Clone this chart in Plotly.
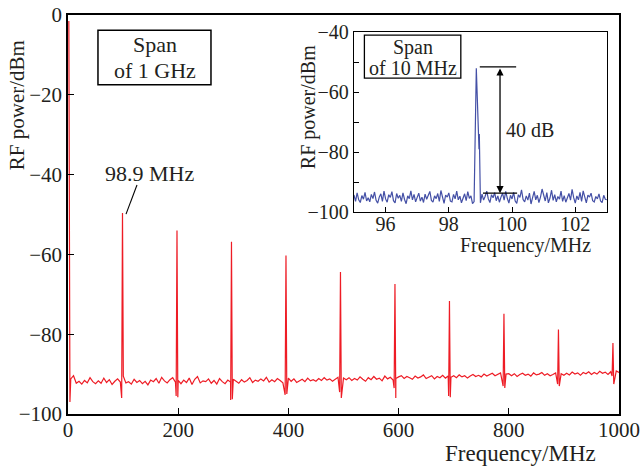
import numpy as np
import plotly.graph_objects as go

# ---------------- data ----------------
# main spectrum (span 1 GHz): DC component
dc_freq = [1.5, 3.5]
dc_level = [-1.5, -97.0]

# noise floor sampled every 5 MHz from 5 to 1000 MHz
noise_main = [
    -91.2, -90.4, -92.3, -91.8, -92.5, -91.6, -92.2, -90.9, -91.9, -92.4,
    -91.7, -92.3, -91.0, -92.1, -91.4, -92.6, -91.8, -91.2, -92.0, -91.5,
    -92.2, -91.9, -92.5, -91.3, -92.1, -91.6, -92.4, -91.8, -92.7, -91.5,
    -91.9, -91.1, -92.3, -90.8, -91.7, -92.2, -91.4, -90.9, -92.0, -91.6,
    -92.4, -91.5, -92.1, -91.0, -92.6, -91.3, -90.6, -92.2, -91.7, -91.9,
    -91.2, -92.3, -91.6, -92.5, -91.1, -91.9, -92.4, -91.5, -92.0, -91.3,
    -91.8, -92.3, -91.4, -92.0, -91.6, -90.9, -92.1, -91.5, -91.8, -91.2,
    -91.7, -90.8, -92.0, -91.4, -91.9, -91.1, -91.6, -92.2, -91.3, -91.0,
    -91.8, -91.2, -92.1, -91.6, -91.3, -91.9, -91.0, -91.7, -91.4, -91.8,
    -91.1, -91.6, -90.9, -91.5, -91.2, -91.8, -91.3, -90.8, -91.6, -91.0,
    -91.4, -90.9, -91.6, -91.1, -91.5, -90.7, -91.3, -91.8, -90.9, -91.4,
    -90.6, -91.3, -91.0, -91.7, -90.5, -91.2, -90.8, -91.5, -91.1, -90.7,
    -90.4, -91.1, -90.6, -90.9, -91.3, -90.5, -91.0, -90.7, -90.2, -91.1,
    -90.8, -90.4, -91.2, -90.6, -90.9, -90.3, -91.0, -90.5, -90.8, -90.4,
    -90.9, -90.2, -90.7, -90.4, -91.0, -90.5, -90.1, -90.6, -90.3, -90.7,
    -90.0, -90.5, -90.2, -89.8, -90.4, -90.1, -89.7, -90.3, -90.0, -89.9,
    -90.4, -89.9, -90.6, -90.1, -89.8, -90.3, -90.0, -90.5, -89.7, -90.2,
    -90.0, -89.6, -90.3, -89.9, -90.4, -90.1, -89.7, -90.2, -89.9, -90.3,
    -89.8, -90.2, -89.5, -90.0, -89.7, -90.3, -89.6, -89.9, -89.4, -90.1,
    -89.6, -90.0, -89.3, -89.8, -89.5, -90.1, -89.4, -89.7, -89.2, -89.6,
]

# harmonic peaks
peak_freq = [98.9, 197.8, 296.7, 395.6, 494.5, 593.4, 692.3, 791.2, 890.1, 989.0]
peak_level = [-49.6, -54.0, -56.8, -60.3, -64.4, -67.4, -71.7, -74.9, -78.8, -82.2]
dip_left = [-96.0, -95.5, -96.5, -95.2, -94.5, -93.5, -95.5, -93.0, -92.5, -90.5]
dip_right = [-90.5, -95.8, -96.3, -95.0, -96.0, -96.0, -95.8, -93.5, -93.0, -92.5]

# inset spectrum (span 10 MHz): samples every 0.05 MHz from 95 to 103 MHz
noise_inset = [
    -94.3, -96.4, -93.6, -95.9, -96.8, -94.5, -95.7, -93.4, -96.3, -95.2,
    -96.6, -94.1, -95.5, -93.3, -96.1, -97.0, -95.0, -93.9, -96.4, -93.0,
    -95.6, -96.7, -94.2, -95.1, -93.2, -96.2, -96.9, -93.8, -95.4, -94.4,
    -96.4, -93.6, -95.8, -97.2, -94.6, -95.5, -92.9, -95.9, -94.1, -96.6,
    -95.1, -93.7, -96.3, -95.0, -96.8, -94.0, -95.7, -94.5, -93.1, -96.1,
    -96.7, -94.6, -95.5, -93.8, -96.4, -92.8, -95.3, -97.1, -94.3, -95.0,
    -93.6, -96.3, -96.6, -94.1, -95.6, -93.0, -95.9, -94.7, -96.9, -95.1,
    -93.9, -96.2, -93.2, -95.4, -94.6, -97.2, None, None, None, None,
    -96.9, -94.0, -96.0, -94.7, -93.0, -95.6, -96.8, -94.2, -95.2, -93.5,
    -96.2, -94.6, -96.7, -95.0, -93.7, -96.0, -93.1, -95.4, -97.0, -94.4,
    -95.6, -93.4, -96.3, -97.1, -94.2, -95.1, -92.6, -95.8, -96.6, -94.6,
    -96.0, -93.7, -97.3, -95.2, -93.1, -95.9, -94.4, -96.8, -95.0, -92.3,
    -94.3, -96.3, -93.5, -96.9, -95.3, -92.7, -96.1, -94.2, -96.6, -94.8,
    -95.7, -93.0, -96.4, -94.5, -96.7, -95.0, -93.8, -96.0, -92.4, -95.2,
    -97.0, -94.6, -95.9, -93.4, -96.4, -92.9, -95.4, -96.9, -94.3, -95.0,
    -93.7, -96.2, -96.6, -94.8, -95.6, -93.9, -96.3, -96.8, -94.4, -95.7,
    -95.9,
]
inset_peak_freq = [98.80, 98.87, 98.94, 98.955, 98.965]
inset_peak_level = [-96.5, -52.0, -73.0, -79.0, -74.0]

main_xticks = [0, 200, 400, 600, 800, 1000]
main_yticks = [-100, -80, -60, -40, -20, 0]
inset_xticks = [96, 98, 100, 102]
inset_yticks = [-100, -80, -60, -40]

# ---------------- build traces ----------------
grid_x = np.arange(5, 1001, 5)
pts = [(x, y) for x, y in zip(grid_x, noise_main)
       if min(abs(x - f) for f in peak_freq) > 1.6]
pts += list(zip(dc_freq, dc_level))
for f, top, dl, dr in zip(peak_freq, peak_level, dip_left, dip_right):
    pts += [(f - 1.5, dl), (f, top), (f + 1.5, dr)]
pts.sort(key=lambda p: p[0])
mx = [p[0] for p in pts]
my = [p[1] for p in pts]

igrid = np.round(np.linspace(95, 103, len(noise_inset)), 3)
ipts = [(x, y) for x, y in zip(igrid, noise_inset) if y is not None]
ipts += list(zip(inset_peak_freq, inset_peak_level))
ipts.sort(key=lambda p: p[0])
ix = [p[0] for p in ipts]
iy = [p[1] for p in ipts]

FONT = "Liberation Serif"
TXT = "#231f20"

fig = go.Figure()
fig.add_trace(go.Scatter(x=mx, y=my, mode="lines",
                         line=dict(color="#ee1c25", width=1.2),
                         xaxis="x", yaxis="y", showlegend=False))
fig.add_trace(go.Scatter(x=ix, y=iy, mode="lines",
                         line=dict(color="#4450a6", width=1.2),
                         xaxis="x2", yaxis="y2", showlegend=False))

axis_common = dict(showline=True, mirror=True, linecolor="black",
                   showgrid=False, zeroline=False, ticks="inside",
                   tickcolor="black", color=TXT, automargin=False)

fig.update_layout(
    width=640, height=466,
    margin=dict(l=68, r=21, t=15, b=52),
    paper_bgcolor="white", plot_bgcolor="white",
    font=dict(family=FONT, color=TXT),
    xaxis=dict(axis_common, range=[0, 1000], tickvals=main_xticks,
               ticklen=6, linewidth=1.5, tickwidth=1.3, ticklabelstandoff=-4,
               tickfont=dict(size=21, family=FONT), domain=[0, 1]),
    yaxis=dict(axis_common, range=[-100, 0], tickvals=main_yticks,
               ticklen=6, linewidth=1.5, tickwidth=1.3,
               tickfont=dict(size=21, family=FONT), domain=[0, 1]),
    xaxis2=dict(axis_common, range=[95, 103], tickvals=inset_xticks,
                ticklen=5, linewidth=1.3, tickwidth=1.2, anchor="y2",
                ticklabelstandoff=-6,
                tickfont=dict(size=20, family=FONT), domain=[0.519, 0.978]),
    yaxis2=dict(axis_common, range=[-100, -40], tickvals=inset_yticks,
                ticklen=5, linewidth=1.3, tickwidth=1.2, anchor="x2",
                minor=dict(ticks="inside", dtick=10, ticklen=5,
                           tickcolor="black", tickwidth=1.2),
                tickfont=dict(size=20, family=FONT), domain=[0.506, 0.957]),
)

ann = []
# axis titles
ann.append(dict(text="Frequency/MHz", x=0.822, y=-0.1, xref="paper", yref="paper",
                showarrow=False, font=dict(size=23), xanchor="center", yanchor="middle"))
ann.append(dict(text="RF power/dBm", x=-0.0926, y=0.774, xref="paper", yref="paper",
                showarrow=False, font=dict(size=21), textangle=-90,
                xanchor="center", yanchor="middle"))
ann.append(dict(text="Frequency/MHz", x=0.831, y=0.422, xref="paper", yref="paper",
                showarrow=False, font=dict(size=20), xanchor="center", yanchor="middle"))
ann.append(dict(text="RF power/dBm", x=0.4356, y=0.769, xref="paper", yref="paper",
                showarrow=False, font=dict(size=20), textangle=-90,
                xanchor="center", yanchor="middle"))
# main labels
ann.append(dict(text="98.9 MHz", x=148.8, y=-39.6, xref="x", yref="y",
                showarrow=False, font=dict(size=22)))
ann.append(dict(text="Span", x=157, y=-7.5, xref="x", yref="y",
                showarrow=False, font=dict(size=22)))
ann.append(dict(text="of 1 GHz", x=157, y=-13.8, xref="x", yref="y",
                showarrow=False, font=dict(size=22)))
# inset labels
ann.append(dict(text="Span", x=96.86, y=-45.0, xref="x2", yref="y2",
                showarrow=False, font=dict(size=20)))
ann.append(dict(text="of 10 MHz", x=96.86, y=-52.0, xref="x2", yref="y2",
                showarrow=False, font=dict(size=20)))
ann.append(dict(text="40 dB", x=99.75, y=-72.7, xref="x2", yref="y2",
                showarrow=False, font=dict(size=20), xanchor="left"))
# double arrow
ann.append(dict(text="", x=99.62, y=-93.7, ax=99.62, ay=-51.6,
                xref="x2", yref="y2", axref="x2", ayref="y2",
                showarrow=True, arrowhead=2, arrowside="end+start",
                arrowsize=1.1, arrowwidth=1.3, arrowcolor="black"))
fig.update_layout(annotations=ann)

shapes = [
    # span box main
    dict(type="rect", xref="x", yref="y", x0=54.4, x1=259.5, y0=-17.5, y1=-3.8,
         line=dict(color="black", width=1.5)),
    # leader line for 98.9 MHz
    dict(type="line", xref="x", yref="y", x0=125.2, y0=-42.6, x1=105.3, y1=-49.9,
         line=dict(color="black", width=1.1)),
    # span box inset
    dict(type="rect", xref="x2", yref="y2", x0=95.33, x1=98.38, y0=-55.3, y1=-41.0,
         line=dict(color="black", width=1.3)),
    # 40 dB reference lines
    dict(type="line", xref="x2", yref="y2", x0=98.98, x1=100.13, y0=-51.6, y1=-51.6,
         line=dict(color="black", width=1.3)),
    dict(type="line", xref="x2", yref="y2", x0=99.08, x1=100.16, y0=-93.7, y1=-93.7,
         line=dict(color="black", width=1.3)),
]
fig.update_layout(shapes=shapes)

fig.write_html("out.html",
               config={"displayModeBar": False},
               post_script="document.body.style.margin='0';")
